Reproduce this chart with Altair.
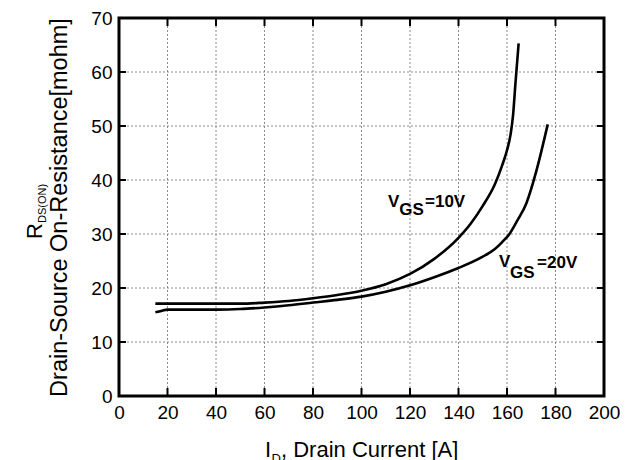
import altair as alt
import pandas as pd

# ---- data ----
id_10v = [15, 20, 30, 40, 50, 60, 70, 80, 90, 100, 110, 120, 130, 140, 145, 150, 155, 158, 160, 161.5, 162.5, 163.5, 164.8]
r_10v = [17.1, 17.1, 17.1, 17.1, 17.1, 17.3, 17.6, 18.1, 18.7, 19.5, 20.7, 22.6, 25.4, 29.3, 31.9, 35.2, 39.2, 42.7, 45.5, 48.5, 52.0, 58.0, 65.3]

id_20v = [15, 17, 20, 30, 40, 50, 60, 70, 80, 90, 100, 110, 120, 130, 140, 150, 155, 158, 161, 164, 168, 172, 176.8]
r_20v = [15.5, 15.7, 16.0, 16.0, 16.0, 16.1, 16.4, 16.8, 17.3, 17.8, 18.4, 19.3, 20.5, 22.0, 23.7, 25.8, 27.2, 28.5, 30.0, 32.3, 35.7, 41.5, 50.3]

series_names = ["VGS=10V", "VGS=20V"]

x_ticks = [0, 20, 40, 60, 80, 100, 120, 140, 160, 180, 200]
y_ticks = [0, 10, 20, 30, 40, 50, 60, 70]
x_inner = [20, 40, 60, 80, 100, 120, 140, 160, 180]
y_inner = [10, 20, 30, 40, 50, 60]

# curve annotations (data coordinates)
ann_text = ["V", "GS", "=10V", "V", "GS", "=20V"]
ann_x = [110.9, 115.6, 126.2, 156.7, 161.2, 172.4]
ann_y = [35.0, 33.5, 35.0, 23.9, 21.85, 23.7]

FONT = "Liberation Sans"
W, H = 485, 378

lines_df = pd.concat([
    pd.DataFrame({"id": id_10v, "r": r_10v, "s": series_names[0]}),
    pd.DataFrame({"id": id_20v, "r": r_20v, "s": series_names[1]}),
])
xg = pd.DataFrame({"id": x_inner})
yg = pd.DataFrame({"r": y_inner})
ann_df = pd.DataFrame({"text": ann_text, "id": ann_x, "r": ann_y})

xscale = alt.Scale(domain=[0, 200], nice=False)
yscale = alt.Scale(domain=[0, 70], nice=False)
xaxis = alt.Axis(values=x_ticks, title=None, grid=False, ticks=False, tickSize=0, domain=False,
                 labelFlush=False, labelOverlap=False,
                 labelFontSize=19, labelPadding=7, labelColor="black", labelFont=FONT)
yaxis = alt.Axis(values=y_ticks, title=None, grid=False, ticks=False, tickSize=0, domain=False,
                 labelFlush=False, labelOverlap=False,
                 labelFontSize=19, labelPadding=7, labelColor="black", labelFont=FONT)


def X():
    return alt.X("id:Q", scale=xscale, axis=xaxis)


def Y():
    return alt.Y("r:Q", scale=yscale, axis=yaxis)


lines = alt.Chart(lines_df).mark_line(strokeWidth=2.6, interpolate="monotone", color="black").encode(
    x=X(), y=Y(), detail="s:N")

gridx = alt.Chart(xg).mark_rule(color="#8a8a8a", strokeWidth=1, strokeDash=[2, 2]).encode(
    x=X(), y=alt.value(0), y2=alt.value(H))
gridy = alt.Chart(yg).mark_rule(color="#8a8a8a", strokeWidth=1, strokeDash=[2, 2]).encode(
    y=Y(), x=alt.value(0), x2=alt.value(W))

tick_b = alt.Chart(xg).mark_rule(color="black", strokeWidth=2).encode(
    x=X(), y=alt.value(H), y2=alt.value(H - 8))
tick_t = alt.Chart(xg).mark_rule(color="black", strokeWidth=2).encode(
    x=X(), y=alt.value(0), y2=alt.value(8))
tick_l = alt.Chart(yg).mark_rule(color="black", strokeWidth=2).encode(
    y=Y(), x=alt.value(0), x2=alt.value(7))
tick_r = alt.Chart(yg).mark_rule(color="black", strokeWidth=2).encode(
    y=Y(), x=alt.value(W), x2=alt.value(W - 7))

ann = alt.Chart(ann_df).mark_text(font=FONT, fontSize=17, fontWeight="bold", align="left",
                                  baseline="alphabetic", color="black").encode(
    x=X(), y=Y(), text="text:N")


def label(txt, x, y, size, angle=0, align="left"):
    return alt.Chart(pd.DataFrame({"t": [txt]})).mark_text(
        font=FONT, fontSize=size, align=align, baseline="alphabetic", angle=angle, color="black"
    ).encode(x=alt.value(x), y=alt.value(y), text="t:N")


# x title: I_D, Drain Current [A]
xt_start = 146
xt1 = label("I", xt_start, 439, 22)
xt2 = label("D", xt_start + 6.5, 445, 13)
xt3 = label(", Drain Current [A]", xt_start + 16, 439, 22)

# y title
yt1 = label("R", -77, 221, 22, angle=270)
yt2 = label("DS(ON)", -73, 205, 11, angle=270)
yt3 = label("Drain-Source On-Resistance[mohm]", -52, 189.5, 23.5, angle=270, align="center")

chart = alt.layer(
    gridx, gridy, lines, tick_b, tick_t, tick_l, tick_r, ann,
    xt1, xt2, xt3, yt1, yt2, yt3
).properties(
    width=W, height=H,
    autosize=alt.AutoSizeParams(type="none"),
    padding={"left": 119, "top": 18, "right": 24, "bottom": 64},
).configure(font=FONT, view=alt.ViewConfig(stroke="black", strokeWidth=3))

chart.save("out.html", embed_options={"renderer": "svg", "actions": False})
